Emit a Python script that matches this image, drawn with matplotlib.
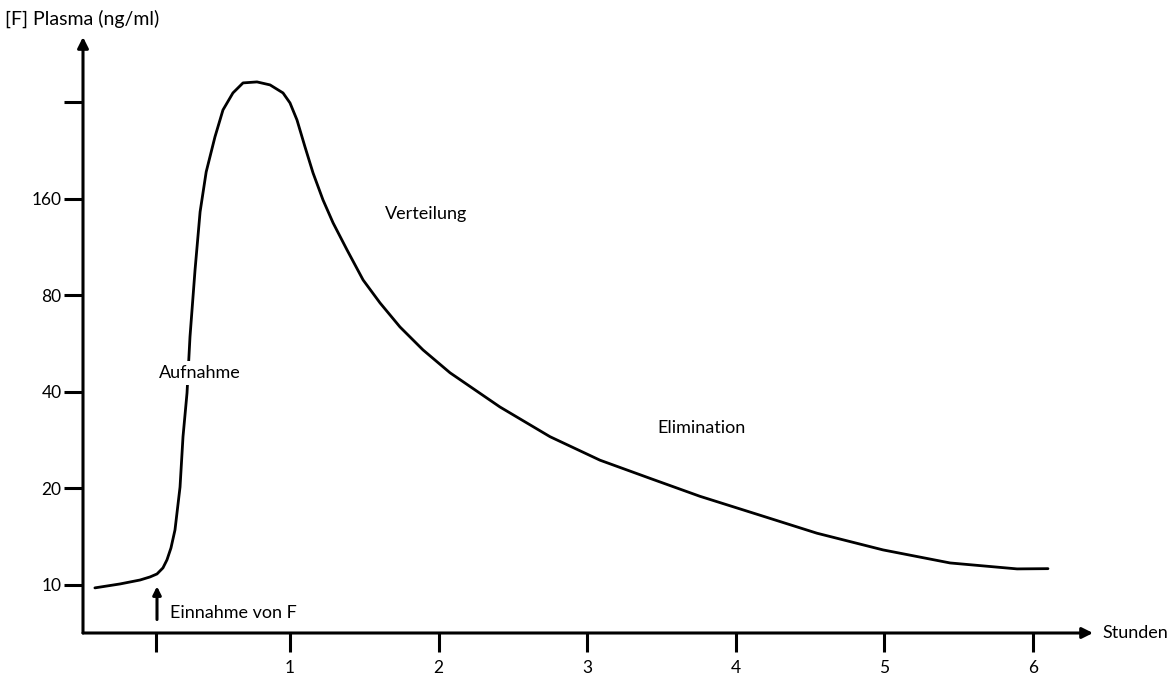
import matplotlib.pyplot as plt
from matplotlib.ticker import NullLocator

plt.rcParams['font.family'] = ['Lato', 'DejaVu Sans']

# Zeit in Stunden, Konzentration in ng/ml
zeit = [-0.313, -0.144, -0.009, 0.058, 0.105, 0.145, 0.172, 0.199, 0.226, 0.26,
        0.28, 0.307, 0.327, 0.361, 0.395, 0.436, 0.495, 0.549, 0.616, 0.684,
        0.778, 0.866, 0.953, 1.0, 1.047, 1.101, 1.155, 1.222, 1.29, 1.384,
        1.492, 1.606, 1.74, 1.895, 2.077, 2.413, 2.75, 3.086, 3.423, 3.759,
        4.163, 4.546, 4.991, 5.442, 5.893, 6.101]
konz = [9.79, 10.07, 10.36, 10.59, 10.82, 11.3, 11.97, 13.04, 14.84, 20.2,
        29.0, 39.7, 59.4, 96.1, 145.8, 194.3, 249.8, 303.2, 342.6, 368.2,
        370.8, 362.9, 342.6, 318.9, 282.2, 232.5, 192.9, 158.9, 134.7, 110.9,
        89.4, 75.8, 63.8, 54.1, 45.9, 35.9, 29.0, 24.5, 21.5, 18.9,
        16.5, 14.5, 12.86, 11.71, 11.22, 11.24]

xticks = [0.1, 1, 2, 3, 4, 5, 6]
xlabels = ["", "1", "2", "3", "4", "5", "6"]
yticks = [10, 20, 40, 80, 160, 320]
ylabels = ["10", "20", "40", "80", "160", ""]

fig = plt.figure(figsize=(11.75, 6.77), dpi=100)
ax = fig.add_axes([83/1175, 1-633/677, (1093-83)/1175, (633-37)/677])

ax.plot(zeit, konz, color="black", lw=2.0, solid_capstyle="round",
        solid_joinstyle="round")

ax.set_yscale("log", base=2)
ax.set_xlim(-0.393, 6.404)
ax.set_ylim(7.08, 512)

ax.set_xticks(xticks, xlabels)
ax.set_yticks(yticks, ylabels)
ax.yaxis.set_minor_locator(NullLocator())
ax.xaxis.set_minor_locator(NullLocator())
ax.tick_params(axis="both", direction="out", length=13.5, width=2.2,
               labelsize=12.5, colors="black")
ax.tick_params(axis="x", pad=6)
ax.tick_params(axis="y", pad=2)

for s in ax.spines.values():
    s.set_visible(False)

# Achsen mit Pfeilen
arrow = dict(arrowstyle="-|>", lw=2.2, color="black", mutation_scale=16,
             shrinkA=0, shrinkB=0)
ax.annotate("", xy=(1, 0), xytext=(0, 0), xycoords="axes fraction",
            arrowprops=arrow, annotation_clip=False)
ax.annotate("", xy=(0, 1), xytext=(0, 0), xycoords="axes fraction",
            arrowprops=arrow, annotation_clip=False)

fig.text(5/1175, 1-19/677, "[F] Plasma (ng/ml)", fontsize=14,
         ha="left", va="center")
fig.text(1102/1175, 1-633/677, "Stunden", fontsize=13,
         ha="left", va="center")

ax.text(0.395, 45.9, "Aufnahme", fontsize=13, ha="center", va="center",
        bbox=dict(facecolor="white", edgecolor="none", pad=3))
ax.text(1.64, 143.7, "Verteilung", fontsize=13, ha="left", va="center")
ax.text(3.47, 30.9, "Elimination", fontsize=13, ha="left", va="center")
ax.text(0.19, 8.18, "Einnahme von F", fontsize=13, ha="left", va="center")

ax.annotate("", xy=(0.105, 9.9), xytext=(0.105, 7.8),
            arrowprops=dict(arrowstyle="-|>", lw=2.2, color="black",
                            mutation_scale=12, shrinkA=0, shrinkB=0))

fig.savefig("out.png", dpi=100)
